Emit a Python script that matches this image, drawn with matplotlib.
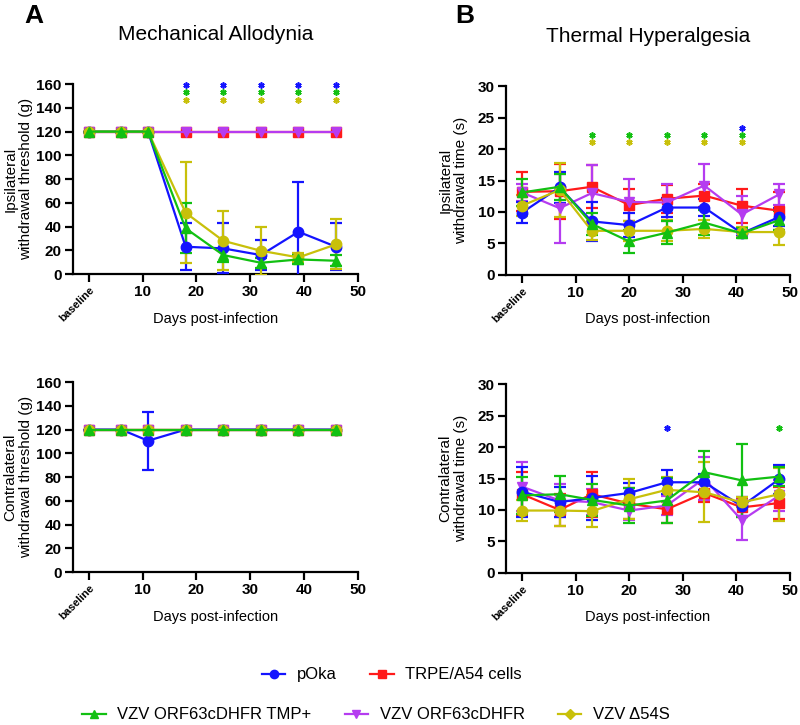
import matplotlib
matplotlib.use('Agg')
import matplotlib.pyplot as plt
from matplotlib.lines import Line2D

plt.rcParams['font.family'] = ['Liberation Sans', 'DejaVu Sans']

# groups
names = ['pOka', 'TRPE/A54 cells', 'VZV ORF63cDHFR TMP+', 'VZV ORF63cDHFR', 'VZV Δ54S']
colors = ['#1414ff', '#ff1a1a', '#12c012', '#b53cf0', '#c8c00a']
markers = ['o', 's', '^', 'v', 'o']

# mechanical allodynia (days post-infection)
mech_days = [0, 6, 11, 18, 25, 32, 39, 46]
mech_ipsi = {
    'pOka': [120, 120, 120, 23, 21.6, 16, 35.6, 23],
    'TRPE/A54 cells': [120, 120, 120, 120, 120, 120, 120, 120],
    'VZV ORF63cDHFR TMP+': [120, 120, 120, 38.5, 16, 9.5, 12.3, 11.2],
    'VZV ORF63cDHFR': [120, 120, 120, 120, 120, 120, 120, 120],
    'VZV Δ54S': [120, 120, 120, 51.6, 28, 19.6, 14, 25],
}
mech_ipsi_err = {
    'pOka': [0, 0, 0, 19.7, 21, 12.6, 42, 19.7],
    'TRPE/A54 cells': [0, 0, 0, 0, 0, 0, 0, 0],
    'VZV ORF63cDHFR TMP+': [0, 0, 0, 21, 6, 4, 4, 4.5],
    'VZV ORF63cDHFR': [0, 0, 0, 0, 0, 0, 0, 0],
    'VZV Δ54S': [0, 0, 0, 42.4, 25, 20, 3.5, 21],
}
mech_contra = {
    'pOka': [120, 120, 110.6, 120, 120, 120, 120, 120],
    'TRPE/A54 cells': [120, 120, 120, 120, 120, 120, 120, 120],
    'VZV ORF63cDHFR TMP+': [120, 120, 120, 120, 120, 120, 120, 120],
    'VZV ORF63cDHFR': [120, 120, 120, 120, 120, 120, 120, 120],
    'VZV Δ54S': [120, 120, 120, 120, 120, 120, 120, 120],
}
mech_contra_err = {
    'pOka': [0, 0, 24.5, 0, 0, 0, 0, 0],
    'TRPE/A54 cells': [0] * 8,
    'VZV ORF63cDHFR TMP+': [0] * 8,
    'VZV ORF63cDHFR': [0] * 8,
    'VZV Δ54S': [0] * 8,
}

# thermal hyperalgesia
therm_days = [0, 7, 13, 20, 27, 34, 41, 48]
therm_ipsi = {
    'pOka': [9.9, 13.9, 8.5, 7.9, 10.7, 10.7, 6.6, 9.2],
    'TRPE/A54 cells': [13.2, 13.3, 14.0, 11.1, 12.1, 12.6, 11.0, 10.2],
    'VZV ORF63cDHFR TMP+': [13.1, 14.0, 8.1, 5.3, 6.7, 8.3, 6.6, 8.7],
    'VZV ORF63cDHFR': [13.1, 10.6, 13.0, 11.6, 11.5, 14.2, 9.6, 12.8],
    'VZV Δ54S': [11.0, 13.5, 7.0, 7.0, 7.0, 7.3, 6.8, 6.8],
}
therm_ipsi_err = {
    'pOka': [1.7, 2.5, 3.1, 1.9, 1.5, 1.3, 0.5, 1.5],
    'TRPE/A54 cells': [3.1, 4.4, 3.4, 2.5, 2.2, 1.8, 2.7, 3.0],
    'VZV ORF63cDHFR TMP+': [2.2, 2.1, 1.7, 1.8, 1.8, 2.0, 0.8, 1.5],
    'VZV ORF63cDHFR': [1.3, 5.5, 4.4, 3.6, 2.9, 3.5, 3.0, 1.7],
    'VZV Δ54S': [1.7, 4.3, 1.5, 1.6, 1.7, 1.4, 0.8, 2.1],
}
therm_contra = {
    'pOka': [12.9, 11.25, 11.9, 12.7, 14.4, 14.4, 10.6, 14.9],
    'TRPE/A54 cells': [12.5, 10.0, 12.5, 11.0, 10.1, 12.7, 10.4, 11.1],
    'VZV ORF63cDHFR TMP+': [12.3, 12.5, 11.6, 10.7, 11.5, 16.0, 14.7, 15.3],
    'VZV ORF63cDHFR': [13.7, 11.5, 11.25, 9.9, 10.7, 15.0, 8.35, 12.3],
    'VZV Δ54S': [9.9, 9.9, 9.8, 11.7, 13.2, 12.8, 11.2, 12.5],
}
therm_contra_err = {
    'pOka': [4.0, 2.4, 3.5, 1.6, 1.9, 1.3, 1.5, 2.3],
    'TRPE/A54 cells': [3.5, 2.5, 3.6, 2.5, 2.2, 1.5, 1.5, 2.5],
    'VZV ORF63cDHFR TMP+': [2.9, 2.9, 2.5, 2.8, 3.6, 3.4, 5.8, 1.5],
    'VZV ORF63cDHFR': [3.9, 2.7, 2.0, 1.5, 1.5, 3.4, 3.2, 2.4],
    'VZV Δ54S': [1.6, 2.4, 2.5, 3.2, 2.0, 4.8, 0.8, 4.2],
}

# significance asterisks: (day, level, group)
mech_ipsi_stars = [(d, lvl, g) for d in [18, 25, 32, 39, 46]
                   for lvl, g in [(159, 'pOka'), (153, 'VZV ORF63cDHFR TMP+'), (147, 'VZV Δ54S')]]
therm_ipsi_stars = [(d, lvl, g) for d in [13, 20, 27, 34, 41]
                    for lvl, g in [(22.3, 'VZV ORF63cDHFR TMP+'), (21.2, 'VZV Δ54S')]] + [(41, 23.4, 'pOka')]
therm_contra_stars = [(27, 23.1, 'pOka'), (48, 23.1, 'VZV ORF63cDHFR TMP+')]

draw_order = ['TRPE/A54 cells', 'VZV ORF63cDHFR', 'pOka', 'VZV Δ54S', 'VZV ORF63cDHFR TMP+']
col = dict(zip(names, colors))
mk = dict(zip(names, markers))

fig = plt.figure(figsize=(8, 7.25), dpi=100)


def draw_panel(rect, days, vals, errs, ymax, ystep, ylabel, stars, labx):
    ax = fig.add_axes(rect)
    for g in draw_order:
        err = errs[g] if any(errs[g]) else None
        ax.errorbar(days, vals[g], yerr=err, color=col[g], marker=mk[g], markersize=7.5,
                    lw=1.6, elinewidth=1.6, capsize=4, capthick=1.6, zorder=3)
    for d, lvl, g in stars:
        ax.plot(d, lvl, marker=(6, 2, 0), color=col[g], markersize=4.5, mew=1.2,
                linestyle='none', clip_on=False)
    ax.set_xlim(-3, 50)
    ax.set_ylim(0, ymax)
    ax.set_yticks(range(0, ymax + 1, ystep))
    ax.set_xticks([0, 10, 20, 30, 40, 50])
    ax.set_xticklabels(['baseline', '10', '20', '30', '40', '50'])
    for s in ['top', 'right']:
        ax.spines[s].set_visible(False)
    for s in ['left', 'bottom']:
        ax.spines[s].set_linewidth(1.6)
    ax.tick_params(width=1.6, length=6, labelsize=11, pad=2)
    for lab in ax.get_yticklabels() + ax.get_xticklabels():
        lab.set_fontweight('bold')
    base = ax.get_xticklabels()[0]
    base.set_rotation(45)
    base.set_fontsize(8)
    base.set_ha('right')
    base.set_rotation_mode('anchor')
    ax.set_xlabel('Days post-infection', fontsize=10.5)
    ax.xaxis.set_label_coords(0.5, -0.2)
    ax.set_ylabel(ylabel, fontsize=11, linespacing=1.15)
    ax.yaxis.set_label_coords(labx, 0.5)
    return ax


draw_panel([0.091, 0.622, 0.356, 0.262], mech_days, mech_ipsi, mech_ipsi_err, 160, 20,
           'Ipsilateral\nwithdrawal threshold (g)', mech_ipsi_stars, -0.14)
draw_panel([0.6325, 0.621, 0.355, 0.260], therm_days, therm_ipsi, therm_ipsi_err, 30, 5,
           'Ipsilateral\nwithdrawal time (s)', therm_ipsi_stars, -0.134)
draw_panel([0.091, 0.211, 0.356, 0.262], mech_days, mech_contra, mech_contra_err, 160, 20,
           'Contralateral\nwithdrawal threshold (g)', [], -0.14)
draw_panel([0.6325, 0.210, 0.355, 0.260], therm_days, therm_contra, therm_contra_err, 30, 5,
           'Contralateral\nwithdrawal time (s)', therm_contra_stars, -0.134)

fig.text(0.269, 0.952, 'Mechanical Allodynia', fontsize=15, ha='center', va='center')
fig.text(0.81, 0.950, 'Thermal Hyperalgesia', fontsize=15, ha='center', va='center')
fig.text(0.0425, 0.978, 'A', fontsize=19, fontweight='bold', ha='center', va='center')
fig.text(0.581, 0.978, 'B', fontsize=19, fontweight='bold', ha='center', va='center')

# legend
handles = {}
for g in names:
    m = 'D' if g == 'VZV Δ54S' else mk[g]
    handles[g] = Line2D([], [], color=col[g], marker=m, markersize=5 if m == 'D' else 6, lw=1.6)
row1 = ['pOka', 'TRPE/A54 cells']
row2 = ['VZV ORF63cDHFR TMP+', 'VZV ORF63cDHFR', 'VZV Δ54S']
leg_kw = dict(frameon=False, fontsize=12, handlelength=1.4, handletextpad=0.7,
              columnspacing=2.0, loc='center')
fig.legend([handles[g] for g in row1], row1, ncol=2, bbox_to_anchor=(0.49, 0.069), **leg_kw)
fig.legend([handles[g] for g in row2], row2, ncol=3, bbox_to_anchor=(0.47, 0.0138), **leg_kw)

fig.savefig('out.png', dpi=100)
